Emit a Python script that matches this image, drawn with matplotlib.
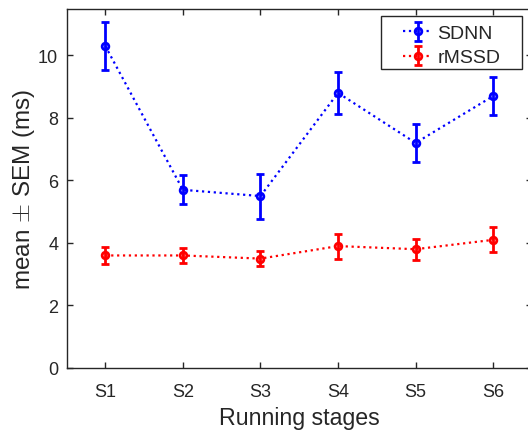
import matplotlib
matplotlib.use("Agg")
import matplotlib.pyplot as plt
from matplotlib.patches import Rectangle
import numpy as np

plt.rcParams['font.family'] = ['Liberation Sans', 'DejaVu Sans']
plt.rcParams['mathtext.fontset'] = 'cm'

stages = ["S1", "S2", "S3", "S4", "S5", "S6"]
sdnn_mean = [10.3, 5.7, 5.5, 8.8, 7.2, 8.7]
sdnn_sem = [0.78, 0.46, 0.72, 0.67, 0.62, 0.60]
rmssd_mean = [3.6, 3.6, 3.5, 3.9, 3.8, 4.1]
rmssd_sem = [0.27, 0.24, 0.25, 0.40, 0.33, 0.40]

x = np.arange(1, len(stages) + 1)

W, H = 528, 431
fig = plt.figure(figsize=(W / 100, H / 100), dpi=100)
ax = fig.add_axes([66.5 / W, 62 / H, 465.5 / W, 359.5 / H])

common = dict(linestyle=':', linewidth=1.6, marker='o', markersize=4.8,
              markerfacecolor='none', markeredgewidth=2,
              elinewidth=2, capsize=2.6, capthick=2)
ax.errorbar(x, sdnn_mean, yerr=sdnn_sem, color='#0000ff', label='SDNN', **common)
ax.errorbar(x, rmssd_mean, yerr=rmssd_sem, color='#ff0000', label='rMSSD', **common)

ax.set_xlim(0.5, 6.5)
ax.set_ylim(0, 11.5)
ax.set_xticks(x)
ax.set_xticklabels(stages)
ax.set_yticks(np.arange(0, 11, 2))
ax.tick_params(direction='in', length=4, width=1, top=True, right=True,
               labelsize=13, colors='#262626')
ax.tick_params(axis='x', pad=10.5)
ax.tick_params(axis='y', pad=6)
for s in ax.spines.values():
    s.set_color('#262626')
    s.set_linewidth(1)

ax.set_xlabel('Running stages', fontsize=16.7, color='#262626', labelpad=4.5)
ax.set_ylabel(r'mean $\pm$ SEM (ms)', fontsize=17.5, color='#262626', labelpad=1)

# legend entries without their own frame; the box is drawn separately
leg = ax.legend(loc='upper left', fontsize=14, frameon=False,
                borderpad=0, borderaxespad=0, handlelength=1.5,
                handletextpad=0.26, labelspacing=0.34)
leg.set_bbox_to_anchor((403 / W, 1 - 25.5 / H), transform=fig.transFigure)
for t in leg.get_texts():
    t.set_color('#262626')

box = Rectangle((381 / W, 1 - 70 / H), 141 / W, 53 / H, transform=fig.transFigure,
                facecolor='white', edgecolor='#262626', linewidth=1, zorder=4)
fig.add_artist(box)
leg.set_zorder(5)
fig.add_artist(leg)

fig.savefig('out.png', dpi=100)
